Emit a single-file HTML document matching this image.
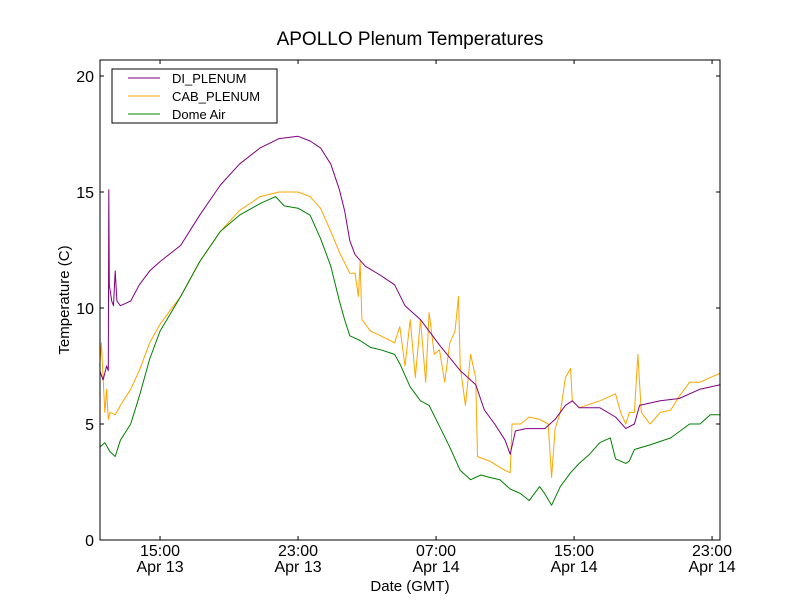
<!DOCTYPE html>
<html><head><meta charset="utf-8"><style>
body{margin:0;background:#fff;}
svg text{font-family:"Liberation Sans","DejaVu Sans",sans-serif;}
</style></head><body>
<svg id="chart" width="800" height="600" xmlns="http://www.w3.org/2000/svg">
<rect width="800" height="600" fill="#fff"/>
<text x="410" y="45" font-size="19" text-anchor="middle">APOLLO Plenum Temperatures</text>
<g id="series"></g>
<rect x="100" y="60" width="620" height="480" fill="none" stroke="#000" stroke-width="1"/>
<g id="axes"></g>
<text transform="translate(69,300) rotate(-90)" font-size="15" text-anchor="middle">Temperature (C)</text>
<text x="410" y="591" font-size="15" text-anchor="middle">Date (GMT)</text>
<g id="legend"></g>
</svg>
<script>
// hours since Apr 13 00:00 GMT
const xTickHours=[15,23,31,39,47];
const xTickLabels=[["15:00","Apr 13"],["23:00","Apr 13"],["07:00","Apr 14"],["15:00","Apr 14"],["23:00","Apr 14"]];
const yTicks=[0,5,10,15,20];
const seriesNames=["DI_PLENUM","CAB_PLENUM","Dome Air"];
const diTime=[11.5,11.7,11.9,12.0,12.03,12.06,12.2,12.3,12.4,12.5,12.7,13.0,13.3,13.8,14.4,15.0,16.2,17.3,18.5,19.6,20.8,21.9,23.0,23.7,24.3,24.9,25.4,25.7,26.0,26.3,26.9,27.8,28.6,29.2,30.1,31.2,32.4,33.3,33.8,34.4,35.0,35.3,35.6,36.2,37.3,37.9,38.5,38.9,39.3,40.5,41.4,42.0,42.5,42.8,44.0,45.1,46.3,47.5];
const diVals=[7.3,6.9,7.5,7.3,15.1,11.0,10.3,10.1,11.6,10.3,10.1,10.2,10.3,11.0,11.6,12.0,12.7,14.0,15.3,16.2,16.9,17.3,17.4,17.2,16.9,16.2,15.1,14.2,12.9,12.3,11.8,11.4,11.0,10.1,9.5,8.4,7.3,6.7,5.6,5.0,4.3,3.7,4.7,4.8,4.8,5.2,5.8,6.0,5.7,5.7,5.3,4.8,5.0,5.8,6.0,6.1,6.5,6.7];
const cabTime=[11.5,11.6,11.8,11.9,12.0,12.1,12.4,12.7,13.3,13.8,14.4,15.0,16.2,17.3,18.5,19.6,20.8,21.9,23.0,23.7,24.3,24.9,25.4,26.0,26.3,26.5,26.6,26.7,27.2,27.8,28.6,28.9,29.2,29.5,29.8,30.1,30.4,30.6,30.9,31.2,31.5,31.8,32.1,32.3,32.4,32.7,33.0,33.3,33.4,34.1,35.0,35.3,35.4,35.9,36.4,37.0,37.5,37.7,37.9,38.2,38.5,38.8,38.9,39.3,40.5,41.4,41.7,42.0,42.2,42.5,42.7,42.9,43.4,44.0,44.6,45.1,45.7,46.3,46.9,47.5];
const cabVals=[7.5,8.5,5.5,6.5,5.2,5.5,5.4,5.8,6.5,7.3,8.5,9.3,10.5,12.0,13.3,14.2,14.8,15.0,15.0,14.8,14.3,13.3,12.4,11.5,11.5,10.5,12.0,9.5,9.0,8.8,8.5,9.2,7.5,9.5,7.0,9.5,6.8,9.8,8.0,8.2,6.8,8.5,9.0,10.5,7.5,5.8,8.0,7.0,3.6,3.4,3.0,2.9,5.0,5.0,5.3,5.2,5.0,2.7,4.8,5.5,7.0,7.4,6.0,5.7,6.0,6.3,5.5,5.0,5.5,5.5,8.0,5.5,5.0,5.5,5.6,6.2,6.8,6.8,7.0,7.2];
const domeTime=[11.5,11.8,12.1,12.4,12.7,13.3,13.8,14.4,15.0,16.2,17.3,18.5,19.6,20.8,21.7,22.2,23.0,23.7,24.3,24.9,25.4,25.7,26.0,26.6,27.2,27.8,28.6,28.9,29.5,30.1,30.6,31.2,31.8,32.4,33.0,33.6,34.1,34.7,35.3,35.9,36.4,37.0,37.3,37.7,38.2,38.8,39.3,39.9,40.5,41.1,41.4,42.0,42.2,42.5,43.4,44.6,45.7,46.3,46.9,47.5];
const domeVals=[4.0,4.2,3.8,3.6,4.3,5.0,6.2,7.8,9.0,10.5,12.0,13.3,14.0,14.5,14.8,14.4,14.3,14.0,13.0,11.8,10.3,9.5,8.8,8.6,8.3,8.2,8.0,7.6,6.6,6.0,5.8,4.9,4.0,3.0,2.6,2.8,2.7,2.6,2.2,2.0,1.7,2.3,2.0,1.5,2.3,2.9,3.3,3.7,4.2,4.4,3.5,3.3,3.4,3.9,4.1,4.4,5.0,5.0,5.4,5.4];
const colors=["purple","orange","green"];

const X0=100,X1=720,Y0=540,Y1=60,H0=11.52,H1=47.46,V0=0,V1=20.69;
const xs=h=>X0+(h-H0)/(H1-H0)*(X1-X0);
const ys=v=>Y0-(v-V0)/(V1-V0)*(Y0-Y1);
const NS="http://www.w3.org/2000/svg";
const mk=(t,a)=>{const e=document.createElementNS(NS,t);for(const k in a)e.setAttribute(k,a[k]);return e;};

const sg=document.getElementById("series");
const all=[[diTime,diVals],[cabTime,cabVals],[domeTime,domeVals]];
const order=[1,0,2];
order.forEach(i=>{
  const [t,v]=all[i];
  const p=mk("path",{d:t.map((h,j)=>(j?"L":"M")+xs(h).toFixed(1)+","+ys(v[j]).toFixed(1)).join(""),fill:"none",stroke:colors[i],"stroke-width":1,"stroke-linejoin":"round"});
  
  
  sg.appendChild(p);
});

const ax=document.getElementById("axes");
yTicks.forEach(v=>{
  const y=ys(v);
  const l=mk("path",{d:`M100,${y}h4M720,${y}h-4`,stroke:"#000"});
  
  
  ax.appendChild(l);
  const t=mk("text",{x:94,y:y+6,"font-size":16,"text-anchor":"end"});
  t.textContent=v;
  
  
  ax.appendChild(t);
});
xTickHours.forEach((h,i)=>{
  const x=xs(h);
  const l=mk("path",{d:`M${x},540v-4M${x},60v4`,stroke:"#000"});
  
  
  ax.appendChild(l);
  xTickLabels[i].forEach((s,k)=>{
    const t=mk("text",{x:x,y:556+k*16,"font-size":16,"text-anchor":"middle"});
    t.textContent=s;
    
    
    ax.appendChild(t);
  });
});

const lg=document.getElementById("legend");
lg.appendChild(mk("rect",{x:112,y:69,width:165,height:54,fill:"#fff",stroke:"#000"}));
seriesNames.forEach((n,i)=>{
  const y=78+i*18;
  const l=mk("line",{x1:128,x2:160,y1:y,y2:y,stroke:colors[i],"stroke-width":1});
  
  
  lg.appendChild(l);
  const t=mk("text",{x:172,y:y+5,"font-size":13});
  t.textContent=n;
  
  
  lg.appendChild(t);
});
</script>
</body></html>
